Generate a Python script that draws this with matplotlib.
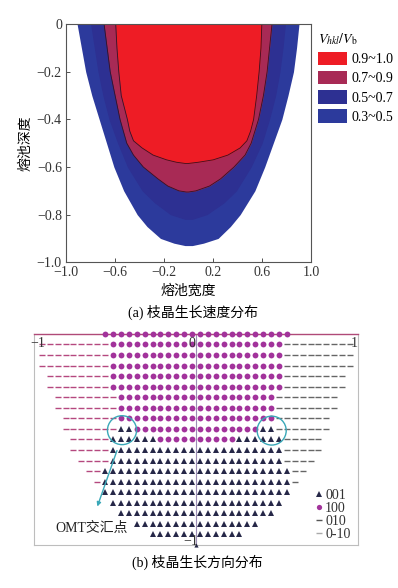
import numpy as np
import matplotlib
matplotlib.use("Agg")
import matplotlib.pyplot as plt
from matplotlib.patches import Patch, Ellipse
from matplotlib.lines import Line2D

plt.rcParams['font.family'] = ['Liberation Serif', 'Noto Sans CJK SC']
plt.rcParams['mathtext.fontset'] = 'stix'

# ---- (a) growth speed regions: boundary of each level (left / right edge at each depth)
y_03 = [0, -0.1, -0.2, -0.3, -0.4, -0.5, -0.6, -0.7, -0.8, -0.85, -0.9, -0.92, -0.93]
l_03 = [-0.91, -0.875, -0.84, -0.79, -0.73, -0.67, -0.61, -0.53, -0.42, -0.34, -0.23, -0.12, -0.03]
r_03 = [0.90, 0.88, 0.855, 0.81, 0.76, 0.69, 0.62, 0.54, 0.42, 0.34, 0.24, 0.12, 0.03]

y_05 = [0, -0.1, -0.2, -0.3, -0.4, -0.5, -0.6, -0.7, -0.75, -0.8, -0.82]
l_05 = [-0.80, -0.77, -0.74, -0.70, -0.65, -0.58, -0.50, -0.38, -0.28, -0.15, -0.03]
r_05 = [0.79, 0.77, 0.745, 0.71, 0.66, 0.60, 0.51, 0.39, 0.29, 0.15, 0.03]

y_07 = [0, -0.1, -0.2, -0.3, -0.4, -0.5, -0.55, -0.6, -0.65, -0.68, -0.70, -0.705]
l_07 = [-0.69, -0.665, -0.64, -0.60, -0.56, -0.505, -0.45, -0.37, -0.25, -0.17, -0.08, -0.02]
r_07 = [0.68, 0.66, 0.64, 0.61, 0.57, 0.51, 0.46, 0.37, 0.26, 0.17, 0.06, 0.0]

y_09 = [0, -0.1, -0.2, -0.3, -0.4, -0.45, -0.49, -0.52, -0.55, -0.57, -0.58, -0.585]
l_09 = [-0.595, -0.585, -0.57, -0.55, -0.50, -0.48, -0.45, -0.38, -0.29, -0.18, -0.10, -0.03]
r_09 = [0.597, 0.59, 0.575, 0.555, 0.53, 0.505, 0.475, 0.42, 0.32, 0.20, 0.08, 0.0]

level_labels = ['0.9~1.0', '0.7~0.9', '0.5~0.7', '0.3~0.5']
level_colors = ['#ee1c25', '#a82a55', '#2d3092', '#2c3a9c']

# ---- (b) growth direction grid: per row, how far (in columns from centre) each type reaches
row_y = [0, -0.05, -0.1, -0.15, -0.2, -0.25, -0.3, -0.35, -0.4, -0.45,
         -0.5, -0.55, -0.6, -0.65, -0.7, -0.75, -0.8, -0.85, -0.9, -0.95]
circ_end = [12, 11, 11, 11, 11, 11, 10, 10, 10, 8, 5, 0, 0, 0, 0, 0, 0, 0, 0, 0]
tri_end = [12, 11, 11, 11, 11, 11, 10, 10, 10, 10, 11, 11, 11, 12, 12, 12, 11, 10, 8, 6]
dash_end = [12, 20, 20, 20, 19, 19, 18, 18, 17, 17, 16, 16, 15, 14, 13, 12, 11, 10, 8, 6]
col_step = 0.05

fig = plt.figure(figsize=(3.98, 5.88), dpi=100)

# ================= panel (a)
ax = fig.add_axes([0.166, 0.554, 0.616, 0.405])
ax.fill_betweenx(y_03, l_03, r_03, color=level_colors[3], lw=0)
ax.fill_betweenx(y_05, l_05, r_05, color=level_colors[2], lw=0)
ax.fill_betweenx(y_07, l_07, r_07, color=level_colors[1], lw=0)
ax.fill_betweenx(y_09, l_09, r_09, color=level_colors[0], lw=0)
for yy, ll, rr in [(y_07, l_07, r_07), (y_09, l_09, r_09)]:
    ax.plot(list(ll) + list(rr[::-1]), list(yy) + list(yy[::-1]), color='#3a1020', lw=0.6)
ax.set_xlim(-1, 1)
ax.set_ylim(-1, 0)
xt = [-1.0, -0.6, -0.2, 0.2, 0.6, 1.0]
yt = [0, -0.2, -0.4, -0.6, -0.8, -1.0]
ax.set_xticks(xt)
ax.set_xticklabels(['\u22121.0', '\u22120.6', '\u22120.2', '0.2', '0.6', '1.0'])
ax.set_yticks(yt)
ax.set_yticklabels(['0', '\u22120.2', '\u22120.4', '\u22120.6', '\u22120.8', '\u22121.0'])
ax.tick_params(direction='in', length=3, width=0.6, labelsize=10, pad=3, colors='#333333')
for s in ax.spines.values():
    s.set_color('#555555')
    s.set_linewidth(0.8)
ax.set_xlabel('熔池宽度', fontsize=10, labelpad=3)
ax.set_ylabel('熔池深度', fontsize=10, labelpad=3)
handles = [Patch(facecolor=c, edgecolor='none') for c in level_colors]
leg = ax.legend(handles, level_labels, loc='upper left', bbox_to_anchor=(1.0, 1.0),
                frameon=False, fontsize=10, title=r'$V_{hkl}/V_\mathrm{b}$',
                title_fontsize=10, handlelength=2.1, handleheight=1.1,
                handletextpad=0.3, labelspacing=0.35, borderaxespad=0.1,
                alignment='left')

fig.text(0.484, 1 - 312 / 588, '(a) 枝晶生长速度分布', ha='center', va='center', fontsize=10)

# ================= panel (b)
bx = fig.add_axes([0.0854, 0.0731, 0.814, 0.359])
bx.set_xlim(-1.025, 1.025)
bx.set_ylim(-1.0, 0.0)
bx.set_xticks([])
bx.set_yticks([])
for s in bx.spines.values():
    s.set_color('#bdbdbd')
    s.set_linewidth(0.8)
bx.spines['top'].set_color('#b04a78')
bx.spines['top'].set_linewidth(1.0)

bx.plot([0, 0], [0, -1], color='#9b8db5', lw=0.8, zorder=1)

cx, cy, tx, ty, dlx, dly, drx, dry = [], [], [], [], [], [], [], []
for j, yv in enumerate(row_y):
    for k in range(1, dash_end[j] + 1):
        off = (k - 0.5) * col_step
        for side in (-1, 1):
            if k <= circ_end[j]:
                cx.append(side * off); cy.append(yv)
            elif k <= tri_end[j]:
                tx.append(side * off); ty.append(yv)
            elif side < 0:
                dlx.append(side * off); dly.append(yv)
            else:
                drx.append(side * off); dry.append(yv)

bx.plot(dlx, dly, ls='none', marker='_', ms=4.6, mew=1.0, color='#b5487f', clip_on=False, zorder=3)
bx.plot(drx, dry, ls='none', marker='_', ms=4.6, mew=1.0, color='#666666', clip_on=False, zorder=3)
bx.plot(cx, cy, ls='none', marker='o', ms=4.2, mew=0, color='#a2339b', clip_on=False, zorder=3)
bx.plot(tx, ty, ls='none', marker='^', ms=4.2, mew=0, color='#262848', clip_on=False, zorder=3)
bx.plot([0], [-1], ls='none', marker='^', ms=3.0, mew=0, color='#262848', clip_on=False, zorder=3)

bx.text(-1.0, -0.045, '\u22121', ha='center', va='center', fontsize=10, color='#333333')
bx.text(-0.027, -0.045, '0', ha='center', va='center', fontsize=10, color='#333333')
bx.text(1.0, -0.045, '1', ha='center', va='center', fontsize=10, color='#333333')
bx.text(-0.035, -0.985, '\u22121', ha='center', va='center', fontsize=10, color='#333333')

cyan = '#3aa8b8'
for ex, ey in [(-0.468, -0.456), (0.479, -0.458)]:
    bx.add_patch(Ellipse((ex, ey), 0.184, 0.137, fill=False, ec=cyan, lw=1.0, zorder=4))
bx.annotate('', xy=(-0.63, -0.83), xytext=(-0.494, -0.54),
            arrowprops=dict(arrowstyle='-|>', color=cyan, lw=1.0, mutation_scale=6))
bx.text(-0.89, -0.92, 'OMT交汇点', ha='left', va='center', fontsize=10, color='#222222')

lh = [Line2D([], [], ls='none', marker='^', ms=3.8, mew=0, color='#262848'),
      Line2D([], [], ls='none', marker='o', ms=3.8, mew=0, color='#a2339b'),
      Line2D([], [], ls='none', marker='_', ms=4.6, mew=1.0, color='#555555'),
      Line2D([], [], ls='none', marker='_', ms=4.6, mew=1.0, color='#aaaaaa')]
bleg = bx.legend(lh, ['001', '100', '010', '0-10'], loc='lower right',
                 bbox_to_anchor=(0.99, 0.0), fontsize=10, frameon=True,
                 handlelength=0.5, handletextpad=0.2, labelspacing=0.0,
                 borderpad=0.2, borderaxespad=0.1, framealpha=0.85)
bleg.get_frame().set_edgecolor('none')
for t in bleg.get_texts():
    t.set_color('#333333')

fig.text(0.495, 0.044, '(b) 枝晶生长方向分布', ha='center', va='center', fontsize=10)

fig.savefig('out.png', dpi=100)
